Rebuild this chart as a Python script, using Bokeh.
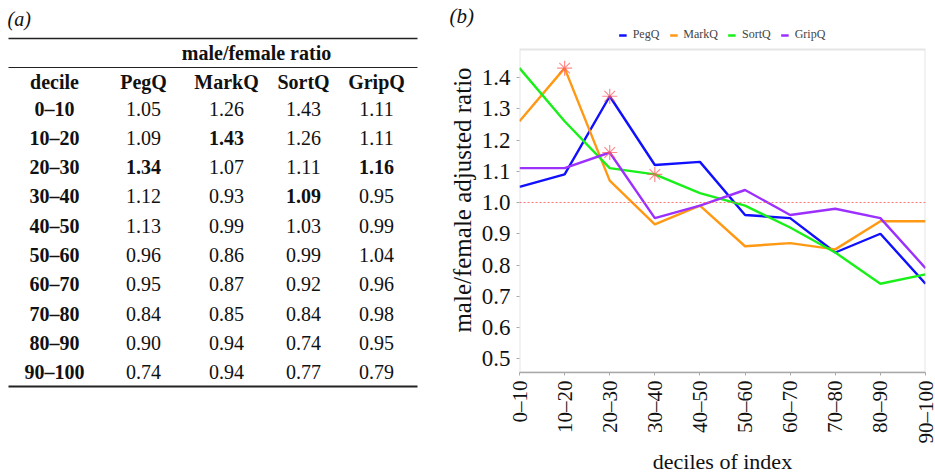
import math
from bokeh.plotting import figure
from bokeh.models import (Range1d, FixedTicker, PrintfTickFormatter, Span, Legend,
                          LegendItem, BoxAnnotation)
from bokeh.layouts import row
from bokeh.core.properties import value
from bokeh.embed import file_html
from bokeh.resources import INLINE

# ---------------- data ----------------
deciles = ["0–10", "10–20", "20–30", "30–40", "40–50",
           "50–60", "60–70", "70–80", "80–90", "90–100"]
series_names = ["PegQ", "MarkQ", "SortQ", "GripQ"]
pegq = [1.05, 1.09, 1.34, 1.12, 1.13, 0.96, 0.95, 0.84, 0.90, 0.74]
markq = [1.26, 1.43, 1.07, 0.93, 0.99, 0.86, 0.87, 0.85, 0.94, 0.94]
sortq = [1.43, 1.26, 1.11, 1.09, 1.03, 0.99, 0.92, 0.84, 0.74, 0.77]
gripq = [1.11, 1.11, 1.16, 0.95, 0.99, 1.04, 0.96, 0.98, 0.95, 0.79]
series_values = [pegq, markq, sortq, gripq]
# row index of the bold (highlighted) cell of each series
bold_rows = [2, 1, 3, 2]
colors = ["#1010ff", "#ff9914", "#19f019", "#9b30ff"]
y_ticks = [0.5, 0.6, 0.7, 0.8, 0.9, 1.0, 1.1, 1.2, 1.3, 1.4]
ref_level = 1.0
y_box = (0.456, 1.49)      # visible plot box
y_view = (0.456, 1.56)     # frame range (room for the legend above the box)

SERIF = "Liberation Serif"
INK = "#111111"
H = 474


def no_align(fig):
    if "frame_align" in fig.properties():
        fig.frame_align = False


# ---------------- table (a) ----------------
TW = 445
t = figure(width=TW, height=H, output_backend="svg", toolbar_location=None,
           x_range=Range1d(0, TW), y_range=Range1d(H, 0), min_border=0,
           x_axis_location=None, y_axis_location=None)
t.min_border_left = t.min_border_right = t.min_border_top = t.min_border_bottom = 0
t.grid.visible = False
t.outline_line_color = None
no_align(t)

col_x = [54, 143, 226, 303, 376]
header_y = 81
row_y0 = 108
row_dy = 29.3
fs = "20px"

common = dict(text_font=value(SERIF), text_font_size=fs, text_baseline="middle", text_color=INK)
t.text(x=[7], y=[18], text=["(a)"], text_font_style="italic", text_align="left", **common)
t.segment(x0=[8, 8, 8], y0=[38, 67, 386], x1=[417, 417, 417], y1=[38, 67, 386],
          line_color="#222222", line_width=[1.6, 1.0, 2.0])
t.text(x=[256], y=[52], text=["male/female ratio"],
       text_font_style="bold", text_align="center", **common)
t.text(x=col_x, y=[header_y] * 5, text=["decile"] + series_names,
       text_font_style="bold", text_align="center", **common)
t.text(x=[col_x[0]] * len(deciles), y=[row_y0 + row_dy * i for i in range(len(deciles))],
       text=deciles, text_font_style="bold", text_align="center", **common)

nx, ny, nt, bx, by, bt = [], [], [], [], [], []
for j, vals in enumerate(series_values):
    for i, v in enumerate(vals):
        xx, yy, tt = col_x[j + 1], row_y0 + row_dy * i, f"{v:.2f}"
        if i == bold_rows[j]:
            bx.append(xx); by.append(yy); bt.append(tt)
        else:
            nx.append(xx); ny.append(yy); nt.append(tt)
t.text(x=nx, y=ny, text=nt, text_font_style="normal", text_align="center", **common)
t.text(x=bx, y=by, text=bt, text_font_style="bold", text_align="center", **common)

# ---------------- chart (b) ----------------
FL, FW, FR = 72, 406, 12
FT, FH = 27, 345
BB = H - FT - FH
p = figure(width=FL + FW + FR, height=H, frame_width=FW, frame_height=FH,
           output_backend="svg", toolbar_location=None,
           x_range=Range1d(0, len(deciles) - 1), y_range=Range1d(*y_view),
           min_border_left=FL, min_border_right=FR, min_border_top=FT, min_border_bottom=BB,
           title="(b)")
no_align(p)
p.title.align = "left"
p.title.offset = -70
p.title.standoff = 0
p.title.text_font = SERIF
p.title.text_font_size = "21px"
p.title.text_font_style = "italic"
p.title.text_color = INK
p.grid.visible = False
p.outline_line_color = None

p.add_layout(BoxAnnotation(left=0, right=len(deciles) - 1, bottom=y_box[0], top=y_box[1],
                           fill_alpha=0, line_color="#aaaaaa", line_width=2))

xs = list(range(len(deciles)))
renderers = []
for name, vals, c in zip(series_names, series_values, colors):
    r = p.line(xs, vals, line_color=c, line_width=2.4)
    renderers.append((name, r))

sx = [bold_rows[j] for j in range(len(series_values))]
sy = [series_values[j][bold_rows[j]] for j in range(len(series_values))]
p.scatter(sx, sy, marker="asterisk", size=15, line_color="#ff5a5a", line_alpha=0.7, line_width=1.2)

p.add_layout(Span(location=ref_level, dimension="width", line_color="#ff5555",
                  line_dash="2 2", line_width=1.2, line_alpha=0.8))

for ax in (p.xaxis[0], p.yaxis[0]):
    ax.major_tick_line_color = "#aaaaaa"
    ax.major_tick_out = 3
    ax.major_tick_in = 0
    ax.minor_tick_line_color = None
    ax.major_label_text_font = SERIF
    ax.axis_label_text_font = SERIF
    ax.axis_label_text_font_style = "normal"
    ax.major_label_text_color = INK
    ax.axis_label_text_color = INK
p.xaxis.axis_line_color = "#aaaaaa"
p.xaxis.axis_line_width = 1.5
p.yaxis.axis_line_color = None

p.xaxis.ticker = FixedTicker(ticks=xs)
p.xaxis.major_label_overrides = {i: d for i, d in enumerate(deciles)}
p.xaxis.major_label_orientation = math.pi / 2
p.xaxis.major_label_text_font_size = "21px"
p.xaxis.major_label_standoff = 5
p.xaxis.axis_label = "deciles of index"
p.xaxis.axis_label_text_font_size = "22px"
p.xaxis.axis_label_standoff = 2

p.yaxis.ticker = FixedTicker(ticks=y_ticks)
p.yaxis.formatter = PrintfTickFormatter(format="%.1f")
p.yaxis.major_label_text_font_size = "23px"
p.yaxis.major_label_standoff = 6
p.yaxis.axis_label = "male/female adjusted ratio"
p.yaxis.axis_label_text_font_size = "25px"
p.yaxis.axis_label_standoff = 3

legend = Legend(items=[LegendItem(label=n, renderers=[r]) for n, r in renderers],
                orientation="horizontal", location="top_center",
                label_text_font=SERIF, label_text_font_size="12px",
                glyph_width=8, glyph_height=10, label_height=12, label_standoff=6, spacing=10,
                padding=2, margin=0, border_line_color=None, background_fill_alpha=0)
p.add_layout(legend)

layout = row(t, p)
open("out.html", "w").write(file_html(layout, INLINE))
